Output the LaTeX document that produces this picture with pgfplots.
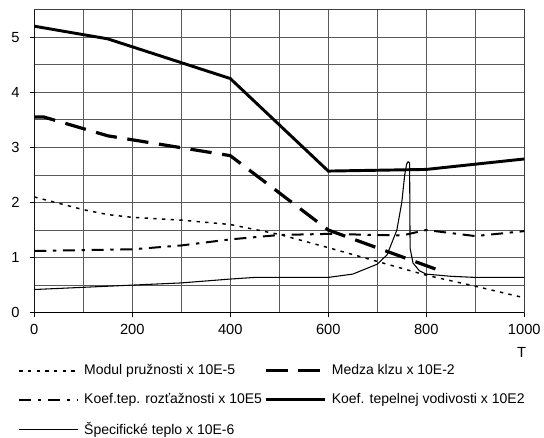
\documentclass[border=0pt]{standalone}
\usepackage{fontspec}
\setmainfont{Liberation Sans}
\usepackage{pgfplots}
\pgfplotsset{compat=1.18}
\begin{document}
\begin{tikzpicture}
\path[use as bounding box] (-25.7pt,-94pt) rectangle (382.3pt,234.5pt);
\begin{axis}[
  at={(0,0)}, anchor=south west,
  scale only axis, width=367.5pt, height=227.25pt,
  xmin=0, xmax=1000, ymin=0, ymax=5.5,
  xtick={0,200,...,1000}, ytick={0,1,...,5},
  minor xtick={100,300,500,700,900},
  minor ytick={0.5,1.5,2.5,3.5,4.5},
  grid=both,
  grid style={black!65, line width=0.6pt},
  minor grid style={black!65, line width=0.6pt},
  major tick length=3.5pt, minor tick length=0pt,
  tick align=outside, xtick pos=bottom, ytick pos=left,
  tick style={black, line width=0.8pt},
  axis line style={black!75, line width=0.6pt},
  /pgf/number format/assume math mode=true,
  /pgf/number format/1000 sep={},
  ticklabel style={font=\fontsize{11}{13}\selectfont},
  xticklabel style={yshift=-1.5pt},
  yticklabel style={xshift=-4pt},
  xlabel={T},
  xlabel style={at={(axis description cs:1,0)}, anchor=center, yshift=-30pt, xshift=-2pt, font=\fontsize{11}{13}\selectfont},
  no markers,
  legend columns=2,
  legend cell align=left,
  legend image code/.code={\draw[#1] (0pt,0pt) -- (44pt,0pt);},
  legend style={draw=none, fill=none, at={(-0.0333,-0.162)}, anchor=north west,
    font=\fontsize{10.5}{12.5}\selectfont, inner sep=0pt,
    nodes={inner sep=2pt},
    /tikz/every odd column/.append style={column sep=2pt},
    /tikz/every even column/.append style={column sep=0pt},
    row sep=8.5pt},
]
% Modul pruznosti
\addplot[black, line width=1.1pt, dash pattern=on 2.5pt off 4pt] coordinates {
(0,2.1)(100,1.87)(150,1.78)(200,1.73)(300,1.68)(400,1.6)(500,1.42)(600,1.18)(800,0.68)(900,0.48)(1000,0.27)};
\addlegendentry{Modul pružnosti x 10E-5}
% Medza klzu
\addplot[black, line width=2.4pt, dash pattern=on 16pt off 8pt] coordinates {
(0,3.55)(20,3.55)(150,3.21)(400,2.85)(600,1.5)(835,0.74)};
\addlegendentry{Medza klzu x 10E-2}
% Koef. tep. roztaznosti
\addplot[black, line width=1.5pt, dash pattern=on 9pt off 5pt on 2.5pt off 5pt] coordinates {
(0,1.12)(200,1.15)(300,1.22)(400,1.33)(500,1.41)(600,1.43)(750,1.4)(800,1.5)(900,1.39)(1000,1.48)};
\addlegendentry{Koef.tep. rozťažnosti x 10E5}
% Koef. tepelnej vodivosti
\addplot[black, line width=2.2pt] coordinates {
(0,5.2)(150,4.97)(400,4.25)(600,2.57)(800,2.6)(1000,2.79)};
\addlegendentry{Koef. tepelnej vodivosti x 10E2}
% Specificke teplo
\addplot[black, line width=0.8pt] coordinates {
(0,0.42)(200,0.5)(300,0.54)(400,0.61)(450,0.64)(600,0.64)(650,0.7)(700,0.88)(720,1.05)(740,1.5)(750,2.0)(756,2.5)(760,2.70)(763,2.74)(766,2.72)(767,1.17)(773,0.9)(786,0.76)(800,0.70)(850,0.66)(900,0.64)(1000,0.64)};
\addlegendentry{Špecifické teplo x 10E-6}
\draw[black, line width=1.5pt] (rel axis cs:0,1) -- (rel axis cs:0,0) -- (rel axis cs:1,0);
\end{axis}
\end{tikzpicture}
\end{document}
